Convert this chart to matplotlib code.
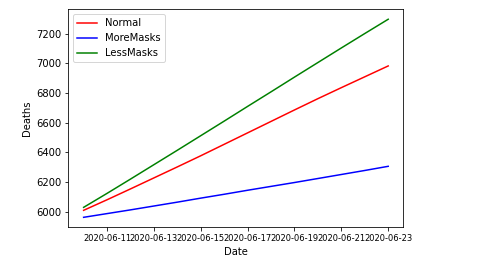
import matplotlib
matplotlib.use("Agg")
import matplotlib.pyplot as plt
import matplotlib.dates as mdates
import numpy as np

# daily death projections per scenario
dates = np.arange(np.datetime64("2020-06-10"), np.datetime64("2020-06-24"))
normal = [6011, 6082, 6155, 6229, 6303, 6378, 6455, 6532, 6609, 6686, 6762, 6836, 6909, 6982]
more_masks = [5964, 5989, 6014, 6040, 6066, 6093, 6119, 6146, 6172, 6198, 6225, 6252, 6279, 6307]
less_masks = [6031, 6125, 6221, 6318, 6415, 6513, 6611, 6710, 6808, 6907, 7005, 7103, 7200, 7296]

fig = plt.figure(figsize=(492 / 72, 267 / 72), dpi=72)
ax = fig.add_axes([0.139, 0.149, 0.681, 0.816])

ax.plot(dates, normal, color='red', linewidth=1.5, label='Normal')
ax.plot(dates, more_masks, color='blue', linewidth=1.5, label='MoreMasks')
ax.plot(dates, less_masks, color='green', linewidth=1.5, label='LessMasks')

ax.xaxis.set_major_locator(mdates.DayLocator(bymonthday=[11, 13, 15, 17, 19, 21, 23]))
ax.xaxis.set_major_formatter(mdates.DateFormatter('%Y-%m-%d'))
ax.tick_params(axis='x', labelsize=8.4)
ax.tick_params(axis='y', labelsize=10)
ax.set_xlabel('Date', fontsize=10)
ax.set_ylabel('Deaths', fontsize=10)
ax.legend(loc='upper left', fontsize=10)

fig.savefig('out.png', dpi=72)
